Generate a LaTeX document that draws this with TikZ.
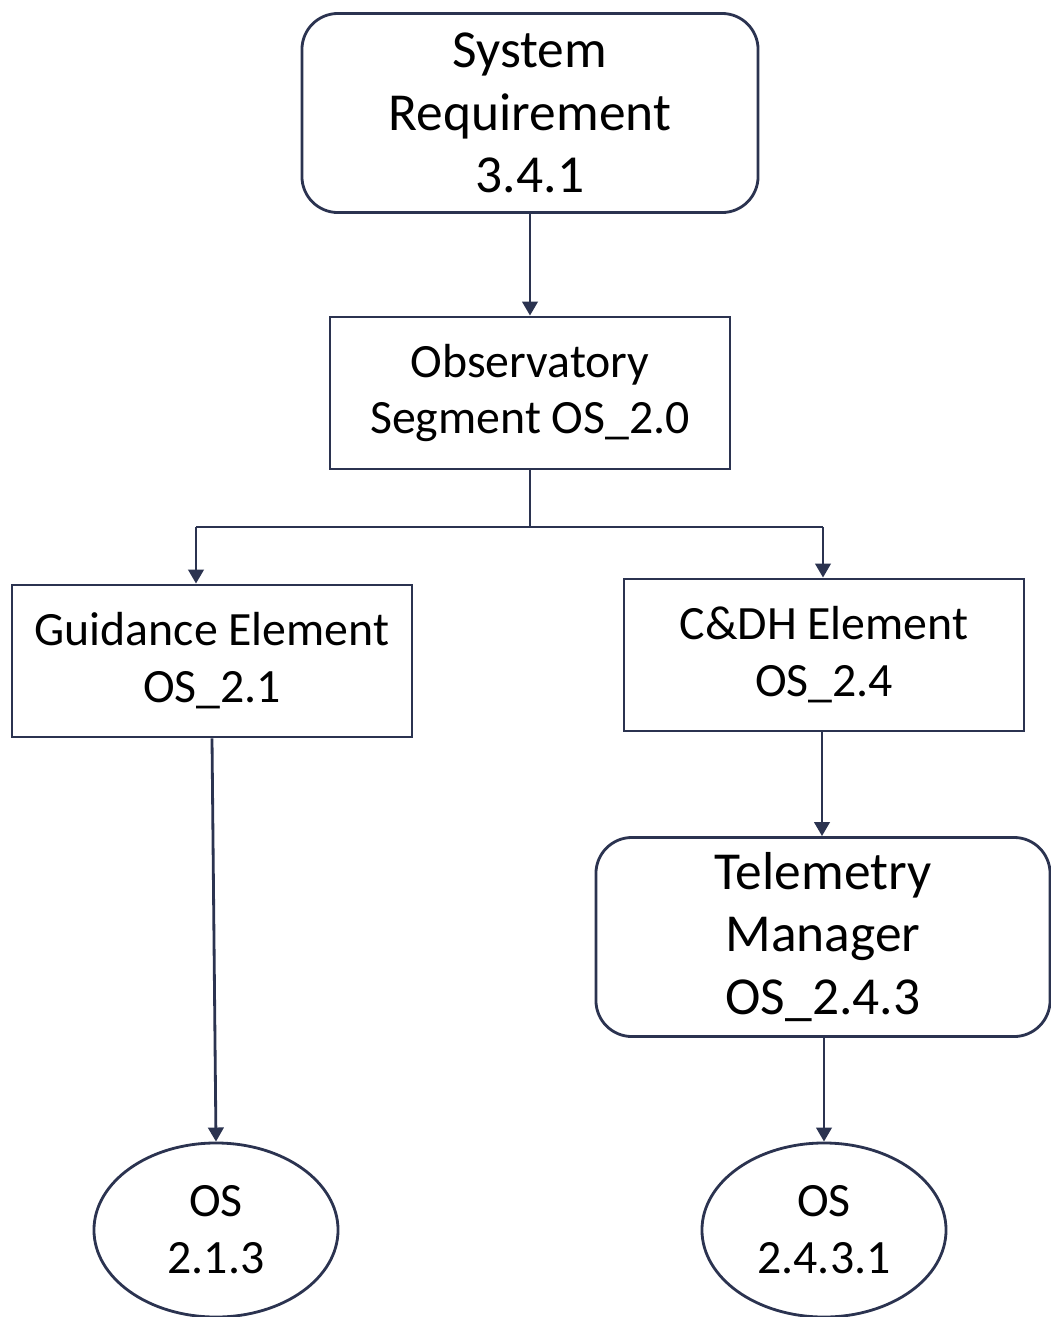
\documentclass[tikz,border=0pt]{standalone}
\usepackage{fontspec}
\setmainfont{Carlito}
\usetikzlibrary{arrows.meta,shapes.geometric}
\definecolor{navy}{HTML}{2B3350}
\tikzset{
  box/.style={draw=navy, line width=2pt, rectangle, align=center, inner sep=0pt,
    minimum width=10cm, minimum height=3.8cm, font=\fontsize{34}{40.5}\selectfont},
  roundbox/.style={box, rounded corners=0.9cm, minimum height=4.975cm,
    font=\fontsize{38}{44.7}\selectfont},
  leaf/.style={draw=navy, line width=2pt, ellipse, align=center, inner sep=0pt,
    minimum width=6.1cm, minimum height=4.35cm, font=\fontsize{34}{40.5}\selectfont},
  link/.style={draw=navy, line width=2pt},
  arrow/.style={link, -{Triangle[width=11pt,length=10pt]}}
}
\begin{document}
\begin{tikzpicture}[x=0.025cm, y=-0.025cm]
\useasboundingbox (0,0) rectangle (1051,1317);

% Draw top requirement
\node[roundbox, minimum width=11.4cm] (sysreq) at (530,113) {System\\Requirement\\3.4.1};

% Draw segment and elements
\node[box] (obs) at (530,393) {Observatory\\Segment OS\_2.0};
\node[box] (guid) at (212,661) {Guidance Element\\OS\_2.1};
\node[box] (cdh) at (824,655) {C\&DH Element\\OS\_2.4};
\node[roundbox, minimum width=11.35cm] (tel) at (823,937) {Telemetry\\Manager\\OS\_2.4.3};

% Leaves
\node[leaf] (os213) at (216,1230) {OS\\2.1.3};
\node[leaf] (os2431) at (824,1230) {OS\\2.4.3.1};

% Branch point below segment
\coordinate (split) at (530,527);
\coordinate (splitL) at (196,527);
\coordinate (splitR) at (823,527);

% Connectors
\draw[arrow] (sysreq.south) -- (obs.north);
\draw[link] (obs.south) -- (split);
\draw[link] (splitL) -- (splitR);
\draw[arrow] (splitL) -- (splitL |- guid.north);
\draw[arrow] (splitR) -- (splitR |- cdh.north);
\draw[arrow] (guid.south) -- (os213.north);
\draw[arrow] (cdh.south -| 822,0) -- (tel.north -| 822,0);
\draw[arrow] (tel.south -| os2431.north) -- (os2431.north);

\end{tikzpicture}
\end{document}
